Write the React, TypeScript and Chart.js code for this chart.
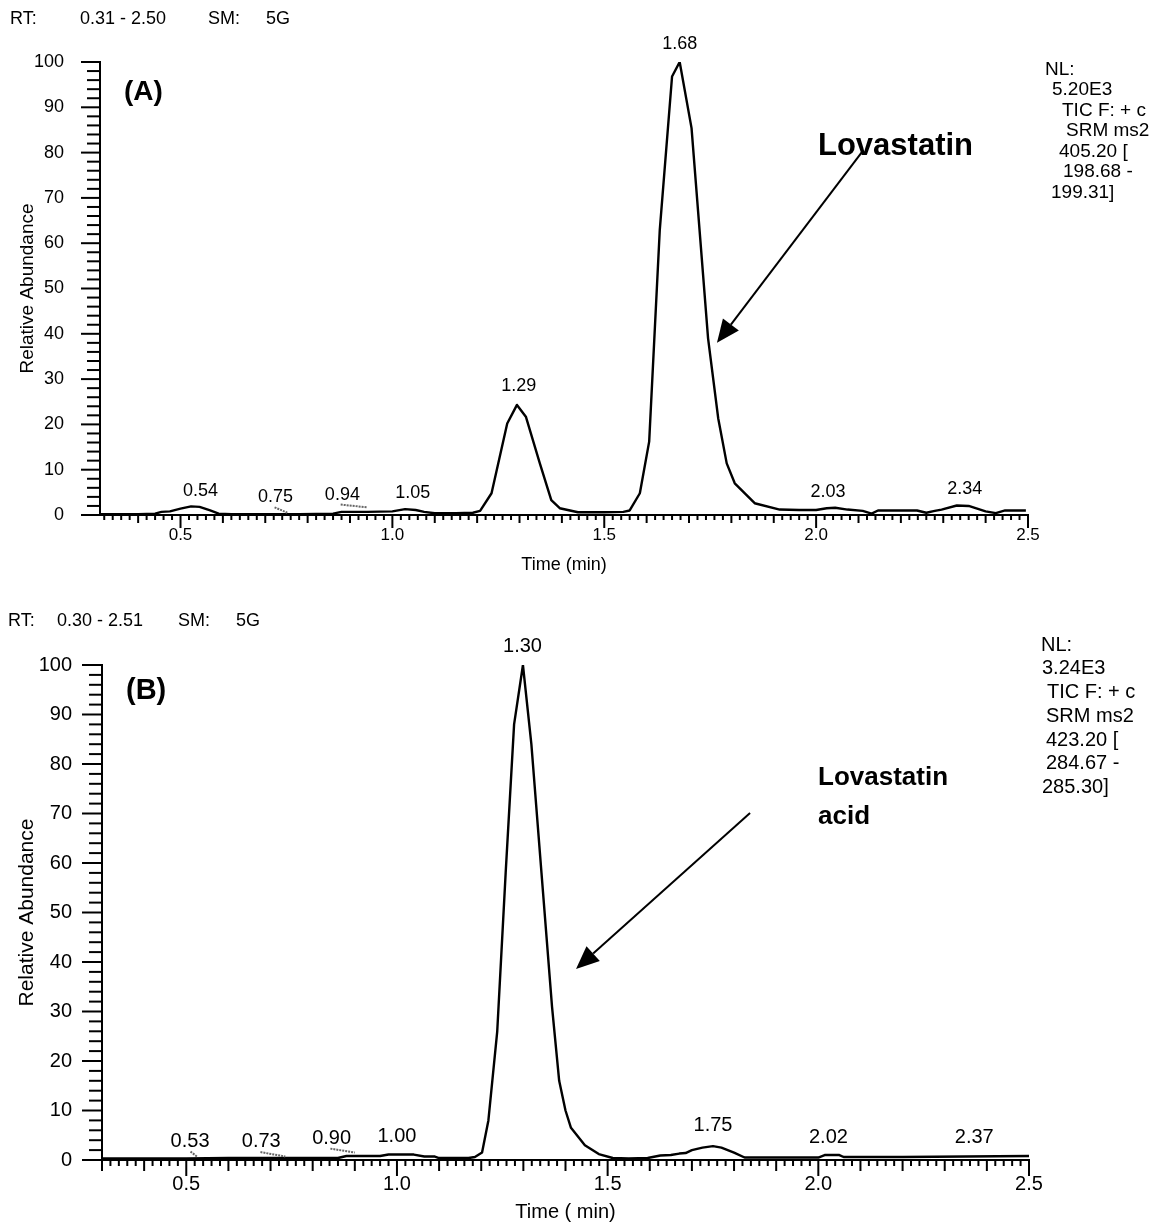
import React, { useEffect, useRef } from 'react';
import { Chart, registerables } from 'chart.js';

Chart.register(...registerables);

const FONT = "'Liberation Sans', Arial, Helvetica, sans-serif";

// ---------- Panel A (Lovastatin) ----------
const timeA = [0.31, 0.35, 0.40, 0.44, 0.455, 0.475, 0.50, 0.525, 0.545, 0.57, 0.59, 0.62, 0.70, 0.78, 0.86, 0.88, 0.94, 1.00, 1.03, 1.055, 1.075, 1.10, 1.15, 1.19, 1.207, 1.234, 1.271, 1.294, 1.315, 1.348, 1.375, 1.395, 1.438, 1.50, 1.545, 1.56, 1.584, 1.606, 1.631, 1.66, 1.678, 1.706, 1.745, 1.769, 1.789, 1.808, 1.855, 1.914, 1.96, 2.00, 2.025, 2.045, 2.074, 2.11, 2.131, 2.146, 2.20, 2.238, 2.26, 2.28, 2.296, 2.332, 2.36, 2.40, 2.424, 2.446, 2.495];
const abundA = [0.2, 0.2, 0.2, 0.3, 0.7, 0.8, 1.4, 1.9, 1.8, 1.0, 0.3, 0.2, 0.2, 0.2, 0.3, 0.7, 0.7, 0.8, 1.3, 1.1, 0.7, 0.4, 0.4, 0.5, 0.9, 4.8, 20.2, 24.3, 21.7, 11.4, 3.3, 1.5, 0.6, 0.6, 0.7, 1.0, 4.8, 16.2, 62.9, 96.8, 100, 85.4, 39, 21.3, 11.4, 7, 2.6, 1.2, 1.1, 1.1, 1.5, 1.6, 1.2, 0.9, 0.3, 1.0, 1.0, 1.0, 0.5, 0.9, 1.2, 2.1, 2.0, 0.8, 0.4, 1.0, 1.0];
const peakTextA = ['0.54', '0.75', '0.94', '1.05', '1.29', '1.68', '2.03', '2.34'];
const peakTimeA = [0.547, 0.724, 0.882, 1.048, 1.298, 1.678, 2.028, 2.351];
const peakLevelA = [5.3, 4.0, 4.4, 4.9, 28.5, 104, 5.1, 5.7];
const connectorsA = [[0.722, 1.7, 0.752, 0.5], [0.878, 2.3, 0.94, 1.7]];
const arrowA = [2.108, 80.1, 1.766, 38];
const nlTextA = ['NL:', '5.20E3', 'TIC F: + c', 'SRM ms2', '405.20 [', '198.68 -', '199.31]'];
const headerA = ['RT:', '0.31 - 2.50', 'SM:', '5G'];

// ---------- Panel B (Lovastatin acid) ----------
const timeB = [0.30, 0.40, 0.50, 0.60, 0.70, 0.80, 0.86, 0.88, 0.96, 0.98, 1.04, 1.065, 1.09, 1.10, 1.17, 1.185, 1.202, 1.217, 1.238, 1.258, 1.278, 1.299, 1.319, 1.343, 1.368, 1.385, 1.40, 1.413, 1.446, 1.479, 1.512, 1.55, 1.595, 1.625, 1.65, 1.67, 1.685, 1.70, 1.725, 1.75, 1.77, 1.80, 1.825, 1.90, 2.00, 2.015, 2.05, 2.06, 2.20, 2.35, 2.50];
const abundB = [0.3, 0.3, 0.3, 0.4, 0.4, 0.4, 0.4, 0.8, 0.8, 1.1, 1.1, 0.7, 0.7, 0.4, 0.4, 0.6, 1.5, 8, 26, 58, 88, 100, 84, 58, 31, 16, 10, 6.5, 3, 1.2, 0.4, 0.3, 0.4, 0.9, 1.0, 1.3, 1.4, 2.0, 2.5, 2.8, 2.5, 1.5, 0.5, 0.5, 0.5, 1.0, 1.0, 0.6, 0.6, 0.7, 0.8];
const peakTextB = ['1.30', '0.53', '0.73', '0.90', '1.00', '1.75', '2.02', '2.37'];
const peakTimeB = [1.298, 0.509, 0.678, 0.845, 1.0, 1.75, 2.024, 2.37];
const peakLevelB = [103.8, 3.8, 3.8, 4.4, 4.8, 6.9, 4.6, 4.6];
const connectorsB = [[0.51, 1.7, 0.527, 0.6], [0.676, 1.6, 0.735, 0.7], [0.842, 2.3, 0.90, 1.5]];
const arrowB = [1.838, 70.1, 1.425, 38.6];
const nlTextB = ['NL:', '3.24E3', 'TIC F: + c', 'SRM ms2', '423.20 [', '284.67 -', '285.30]'];
const headerB = ['RT:', '0.30 - 2.51', 'SM:', '5G'];

const xTickStep = 0.5;
const yTickStep = 10;

type Txt = { t: string; x: number; y: number; size: number; bold?: boolean };

const panelA = {
  top: 0, height: 600,
  times: timeA, values: abundA, xMin: 0.31, xMax: 2.5,
  padTop: 62, padRight: 134, yWidth: 100, xHeight: 85,
  tickFont: 18, xTickFont: 17, yLabelPad: 36, xLabelPad: 10,
  xTitle: 'Time (min)', xTitleFont: 18, xTitlePad: 24,
  yTitleFont: 19, yTitlePad: 16,
  ticks: { yMajor: 19, yMinor: 13, xMajor: 13, xMed: 8, xMinor: 5 },
  peakFont: 18,
  peakText: peakTextA, peakTime: peakTimeA, peakLevel: peakLevelA,
  connectors: connectorsA, arrow: arrowA,
  texts: [
    { t: headerA[0], x: 10, y: 19, size: 18 },
    { t: headerA[1], x: 80, y: 19, size: 18 },
    { t: headerA[2], x: 208, y: 19, size: 18 },
    { t: headerA[3], x: 266, y: 19, size: 18 },
    { t: '(A)', x: 124, y: 92, size: 28, bold: true },
    { t: 'Lovastatin', x: 818, y: 146, size: 31, bold: true },
    { t: nlTextA[0], x: 1045, y: 70, size: 19 },
    { t: nlTextA[1], x: 1052, y: 90, size: 19 },
    { t: nlTextA[2], x: 1062, y: 111, size: 19 },
    { t: nlTextA[3], x: 1066, y: 131, size: 19 },
    { t: nlTextA[4], x: 1059, y: 152, size: 19 },
    { t: nlTextA[5], x: 1063, y: 172, size: 19 },
    { t: nlTextA[6], x: 1051, y: 193, size: 19 },
  ] as Txt[],
};

const panelB = {
  top: 600, height: 624,
  times: timeB, values: abundB, xMin: 0.30, xMax: 2.5,
  padTop: 65, padRight: 133, yWidth: 102, xHeight: 64,
  tickFont: 20, xTickFont: 20, yLabelPad: 30, xLabelPad: 12,
  xTitle: 'Time ( min)', xTitleFont: 20, xTitlePad: 0,
  yTitleFont: 21, yTitlePad: 15,
  ticks: { yMajor: 20, yMinor: 13, xMajor: 16, xMed: 11, xMinor: 6 },
  peakFont: 20,
  peakText: peakTextB, peakTime: peakTimeB, peakLevel: peakLevelB,
  connectors: connectorsB, arrow: arrowB,
  texts: [
    { t: headerB[0], x: 8, y: 21, size: 18 },
    { t: headerB[1], x: 57, y: 21, size: 18 },
    { t: headerB[2], x: 178, y: 21, size: 18 },
    { t: headerB[3], x: 236, y: 21, size: 18 },
    { t: '(B)', x: 126, y: 91, size: 29, bold: true },
    { t: 'Lovastatin', x: 818, y: 178, size: 26, bold: true },
    { t: 'acid', x: 818, y: 217, size: 26, bold: true },
    { t: nlTextB[0], x: 1041, y: 45, size: 20 },
    { t: nlTextB[1], x: 1042, y: 68, size: 20 },
    { t: nlTextB[2], x: 1047, y: 92, size: 20 },
    { t: nlTextB[3], x: 1046, y: 116, size: 20 },
    { t: nlTextB[4], x: 1046, y: 140, size: 20 },
    { t: nlTextB[5], x: 1046, y: 163, size: 20 },
    { t: nlTextB[6], x: 1042, y: 187, size: 20 },
  ] as Txt[],
};

type Panel = typeof panelA;

function makeOverlay(p: Panel) {
  return {
    id: 'overlay',
    afterDraw(chart: any) {
      const { ctx, chartArea } = chart;
      const xs = chart.scales.x;
      const ys = chart.scales.y;
      ctx.save();
      ctx.strokeStyle = '#000';
      ctx.fillStyle = '#000';
      ctx.lineWidth = 2;
      // x ticks every 0.02, medium every 0.1, major every 0.5
      const y0 = chartArea.bottom;
      const k0 = Math.ceil(xs.min / 0.02 - 1e-6);
      for (let k = k0; k * 0.02 <= xs.max + 1e-6; k++) {
        const px = xs.getPixelForValue(k * 0.02);
        const len = k % 25 === 0 ? p.ticks.xMajor : k % 5 === 0 ? p.ticks.xMed : p.ticks.xMinor;
        ctx.beginPath();
        ctx.moveTo(px, y0 - 1);
        ctx.lineTo(px, y0 + len);
        ctx.stroke();
      }
      // y ticks every 2, major every 10
      const x0 = chartArea.left;
      for (let v = 0; v <= 100; v += 2) {
        const py = ys.getPixelForValue(v);
        const len = v % 10 === 0 ? p.ticks.yMajor : p.ticks.yMinor;
        ctx.beginPath();
        ctx.moveTo(x0 + 1, py);
        ctx.lineTo(x0 - len, py);
        ctx.stroke();
      }
      // peak labels
      ctx.font = `${p.peakFont}px ${FONT}`;
      ctx.textAlign = 'center';
      ctx.textBaseline = 'middle';
      p.peakText.forEach((s, i) => {
        ctx.fillText(s, xs.getPixelForValue(p.peakTime[i]), ys.getPixelForValue(p.peakLevel[i]));
      });
      // dotted connectors
      ctx.save();
      ctx.strokeStyle = '#666';
      ctx.lineWidth = 2;
      ctx.setLineDash([2, 1]);
      p.connectors.forEach((c) => {
        ctx.beginPath();
        ctx.moveTo(xs.getPixelForValue(c[0]), ys.getPixelForValue(c[1]));
        ctx.lineTo(xs.getPixelForValue(c[2]), ys.getPixelForValue(c[3]));
        ctx.stroke();
      });
      ctx.restore();
      // arrow
      const ax1 = xs.getPixelForValue(p.arrow[0]);
      const ay1 = ys.getPixelForValue(p.arrow[1]);
      const ax2 = xs.getPixelForValue(p.arrow[2]);
      const ay2 = ys.getPixelForValue(p.arrow[3]);
      const ang = Math.atan2(ay2 - ay1, ax2 - ax1);
      const headLen = 23;
      const headHalf = 10;
      const bx = ax2 - headLen * Math.cos(ang);
      const by = ay2 - headLen * Math.sin(ang);
      ctx.lineWidth = 2;
      ctx.beginPath();
      ctx.moveTo(ax1, ay1);
      ctx.lineTo(bx, by);
      ctx.stroke();
      ctx.beginPath();
      ctx.moveTo(ax2, ay2);
      ctx.lineTo(bx + headHalf * Math.sin(ang), by - headHalf * Math.cos(ang));
      ctx.lineTo(bx - headHalf * Math.sin(ang), by + headHalf * Math.cos(ang));
      ctx.closePath();
      ctx.fill();
      // free text
      ctx.textAlign = 'left';
      ctx.textBaseline = 'middle';
      p.texts.forEach((t) => {
        ctx.font = `${t.bold ? 'bold ' : ''}${t.size}px ${FONT}`;
        ctx.fillText(t.t, t.x, t.y);
      });
      ctx.restore();
    },
  };
}

function ChromPanel({ p }: { p: Panel }) {
  const ref = useRef<HTMLCanvasElement>(null);
  useEffect(() => {
    const canvas = ref.current!;
    const data = p.times.map((t, i) => ({ x: t, y: p.values[i] }));
    const chart = new Chart(canvas, {
      type: 'line',
      data: {
        datasets: [
          {
            data,
            borderColor: '#000',
            borderWidth: 2.4,
            pointRadius: 0,
            tension: 0,
            fill: false,
            borderJoinStyle: 'round',
          },
        ],
      },
      options: {
        responsive: false,
        animation: false,
        devicePixelRatio: 1,
        layout: { padding: { top: p.padTop, right: p.padRight, left: 0, bottom: 0 } },
        plugins: { legend: { display: false }, tooltip: { enabled: false } },
        scales: {
          x: {
            type: 'linear',
            min: p.xMin,
            max: p.xMax,
            afterFit: (s: any) => { s.height = p.xHeight; },
            grid: { display: false, drawTicks: false, tickLength: 0 },
            border: { display: true, color: '#000', width: 2 },
            ticks: {
              stepSize: xTickStep,
              includeBounds: false,
              autoSkip: false,
              maxRotation: 0,
              padding: p.xLabelPad,
              color: '#000',
              font: { family: FONT, size: p.xTickFont },
              callback: (v: any) => {
                const n = Number(v);
                if (n < p.xMin - 1e-9 || n > p.xMax + 1e-9) return '';
                return Math.abs(n / xTickStep - Math.round(n / xTickStep)) < 1e-6 ? n.toFixed(1) : '';
              },
            },
            title: {
              display: true,
              text: p.xTitle,
              color: '#000',
              font: { family: FONT, size: p.xTitleFont },
              padding: { top: 0, bottom: p.xTitlePad },
            },
          },
          y: {
            type: 'linear',
            min: 0,
            max: 100,
            afterFit: (s: any) => { s.width = p.yWidth; },
            grid: { display: false, drawTicks: false, tickLength: 0 },
            border: { display: true, color: '#000', width: 2 },
            ticks: {
              stepSize: yTickStep,
              autoSkip: false,
              padding: p.yLabelPad,
              color: '#000',
              font: { family: FONT, size: p.tickFont },
              callback: (v: any) => String(Math.round(Number(v))),
            },
            title: {
              display: true,
              text: 'Relative Abundance',
              color: '#000',
              font: { family: FONT, size: p.yTitleFont },
              padding: { top: p.yTitlePad, bottom: 0 },
            },
          },
        },
      },
      plugins: [makeOverlay(p)],
    } as any);
    return () => chart.destroy();
  }, [p]);
  return (
    <canvas
      ref={ref}
      width={1162}
      height={p.height}
      style={{ position: 'absolute', left: 0, top: p.top, width: 1162, height: p.height, display: 'block' }}
    />
  );
}

export default function App() {
  return (
    <div style={{ position: 'absolute', left: 0, top: 0, width: 1162, height: 1224, background: '#fff', overflow: 'hidden' }}>
      <ChromPanel p={panelA} />
      <ChromPanel p={panelB} />
    </div>
  );
}
